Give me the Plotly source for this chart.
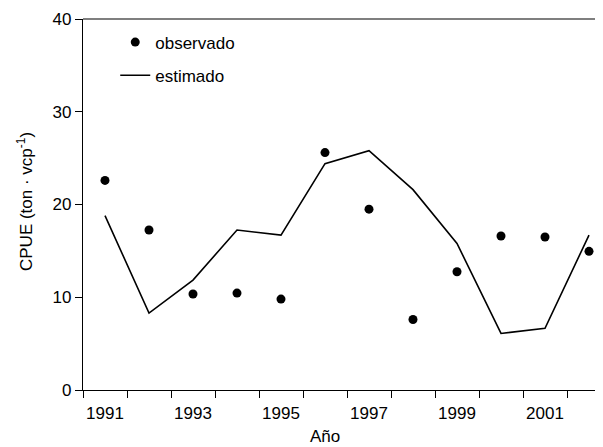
import plotly.graph_objects as go

years = [1991, 1992, 1993, 1994, 1995, 1996, 1997, 1998, 1999, 2000, 2001, 2002]
observado = [22.6, 17.25, 10.35, 10.45, 9.8, 25.6, 19.5, 7.6, 12.75, 16.6, 16.5, 14.95]
estimado = [18.8, 8.3, 11.85, 17.25, 16.7, 24.4, 25.8, 21.6, 15.8, 6.1, 6.65, 16.7]
x_tick_labels = [1991, 1993, 1995, 1997, 1999, 2001]
x_boundaries = [y - 0.5 for y in years]
y_ticks = [0, 10, 20, 30, 40]

FONT = "Liberation Sans, Arial, sans-serif"

# page body has an 8px margin, so the figure is drawn 8px in from the window edge
fig = go.Figure()
fig.add_trace(go.Scatter(
    x=years, y=observado, mode="markers", name="observado",
    marker=dict(symbol="circle", size=9, color="black"),
    legendgroup="a",
))
fig.add_trace(go.Scatter(
    x=years, y=estimado, mode="lines", name="estimado",
    line=dict(color="black", width=1.6),
    legendgroup="b",
))

fig.update_layout(
    width=595, height=439,
    margin=dict(l=75, r=0, t=11, b=57, autoexpand=False),
    paper_bgcolor="white", plot_bgcolor="white",
    font=dict(family=FONT, size=17, color="black"),
    showlegend=True,
    legend=dict(x=0.062, y=0.985, xanchor="left", yanchor="top",
                bgcolor="rgba(0,0,0,0)", tracegroupgap=8,
                font=dict(family=FONT, size=17, color="black")),
    xaxis=dict(
        range=[1990.5, 1990.5 + 520 / 44], automargin=False,
        tickmode="array", tickvals=x_tick_labels,
        ticktext=[str(v) for v in x_tick_labels],
        ticks="", showgrid=False, zeroline=False, ticklabelstandoff=7,
        showline=True, linecolor="black", linewidth=1.3,
        minor=dict(tickmode="array", tickvals=x_boundaries, ticks="outside",
                   ticklen=7, tickwidth=1.3, tickcolor="black", showgrid=False),
        tickfont=dict(family=FONT, size=17),
    ),
    yaxis=dict(
        range=[0, 40], tickmode="array", tickvals=y_ticks, automargin=False,
        ticks="outside", ticklen=7, tickwidth=1.3, tickcolor="black",
        showgrid=False, zeroline=False,
        showline=True, linecolor="black", linewidth=1.3,
        tickfont=dict(family=FONT, size=17),
    ),
    shapes=[dict(type="line", xref="paper", yref="paper", x0=0, x1=1, y0=1, y1=1,
                 line=dict(color="#555555", width=1.3))],
    annotations=[
        dict(text="Año", xref="paper", yref="paper",
             x=(325 - 83) / 520, y=-(436 - 390) / 371,
             xanchor="center", yanchor="middle", showarrow=False,
             font=dict(family=FONT, size=17)),
        dict(text="CPUE (ton · vcp<sup>-1</sup>)", xref="paper", yref="paper",
             x=(25 - 83) / 520, y=(390 - 202) / 371, textangle=-90,
             xanchor="center", yanchor="middle", showarrow=False,
             font=dict(family=FONT, size=17)),
    ],
)

fig.write_html("out.html")
